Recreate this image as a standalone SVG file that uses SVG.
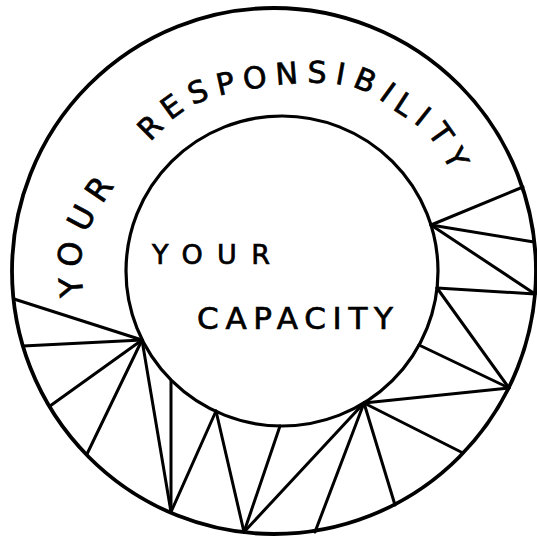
<svg xmlns="http://www.w3.org/2000/svg" width="537" height="538" viewBox="0 0 537 538">
<style>
.ln{stroke:#000;stroke-width:3;stroke-linecap:round;fill:none}
.ring{stroke:#000;fill:none}
.t{font-family:"DejaVu Sans","Liberation Sans",sans-serif;fill:#000;stroke:#000;stroke-width:0.7}
</style>
<defs>
<path id="rp" d="M84,310 C83.8,289 78.5,265.8 83,246 C87.5,226.2 98,210.2 111,191 C124,171.8 146,145.8 161,131 C176,116.2 183.8,109.3 201,102 C218.2,94.7 243.7,90.2 264,87 C284.3,83.8 306.3,82.3 323,83 C339.7,83.7 351.7,86.2 364,91 C376.3,95.8 386.3,104.7 397,112 C407.7,119.3 419.2,125.3 428,135 C436.8,144.7 444.7,159.2 450,170 C455.3,180.8 456.7,190 460,200"/>
</defs>
<rect width="537" height="538" fill="#fff"/>
<g id="outer-circle"><ellipse cx="274" cy="271" rx="262" ry="263" class="ring" stroke-width="3.8"/></g>
<g id="inner-circle"><ellipse cx="282" cy="271" rx="156" ry="155" class="ring" stroke-width="3.2"/></g>
<g id="connectors">
<path class="ln" d="M14,299 L142,340"/>
<path class="ln" d="M23,346 L142,340"/>
<path class="ln" d="M50,406 L142,340"/>
<path class="ln" d="M87,454 L142,340"/>
<path class="ln" d="M142,340 L171,512"/>
<path class="ln" d="M171,381 L171,512"/>
<path class="ln" d="M216,411 L171,512"/>
<path class="ln" d="M216,411 L244,532"/>
<path class="ln" d="M244,532 L280,426"/>
<path class="ln" d="M244,532 L364,403" stroke-width="3.4"/>
<path class="ln" d="M364,403 L315,532"/>
<path class="ln" d="M364,403 L395,505"/>
<path class="ln" d="M364,403 L463,453"/>
<path class="ln" d="M364,403 L509,388"/>
<path class="ln" d="M419,345 L509,388"/>
<path class="ln" d="M437,288 L509,388"/>
<path class="ln" d="M437,288 L535,294"/>
<path class="ln" d="M431,225 L535,294"/>
<path class="ln" d="M431,225 L534,242"/>
<path class="ln" d="M431,225 L523,187"/>
</g>
<g id="outer-label">
<text class="t" font-size="32" letter-spacing="9.9"><textPath href="#rp" startOffset="14">YOUR</textPath></text>
<text class="t" font-size="30" letter-spacing="8.4"><textPath href="#rp" startOffset="189">RESPONSIBILITY</textPath></text>
</g>
<g id="inner-label">
<text class="t" x="152" y="264" font-size="27" textLength="118" lengthAdjust="spacing">YOUR</text>
<text class="t" x="197" y="329" font-size="31" textLength="196" lengthAdjust="spacing">CAPACITY</text>
</g>
</svg>
